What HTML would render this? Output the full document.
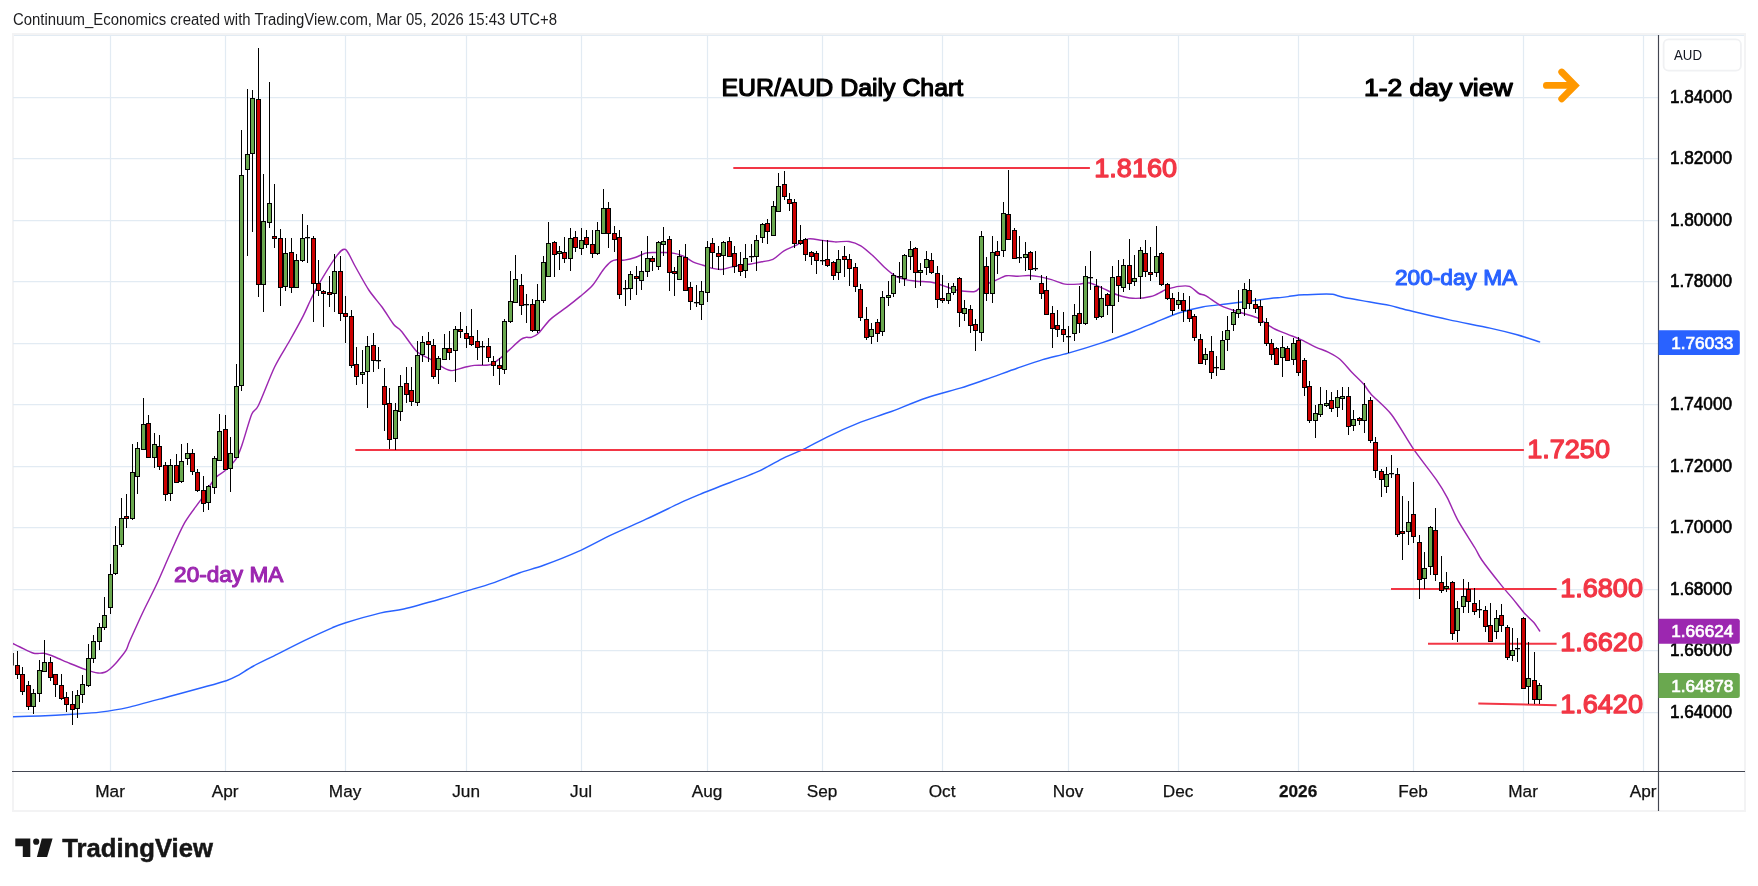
<!DOCTYPE html><html><head><meta charset="utf-8"><title>EUR/AUD Daily Chart</title><style>html,body{margin:0;padding:0;background:#fff}</style></head><body><svg width="1758" height="886" viewBox="0 0 1758 886" style="display:block;font-family:'Liberation Sans', sans-serif;will-change:transform">
<rect width="1758" height="886" fill="#fff"/>
<rect x="13" y="34" width="1732" height="777" fill="none" stroke="#f3f3f4" stroke-width="2"/>
<defs><clipPath id="cp"><rect x="13" y="36" width="1645" height="735"/></clipPath></defs>
<g stroke="#e2ebf3" stroke-width="1.25">
<line x1="13" x2="1658" y1="97.50" y2="97.50"/>
<line x1="13" x2="1658" y1="158.50" y2="158.50"/>
<line x1="13" x2="1658" y1="220.50" y2="220.50"/>
<line x1="13" x2="1658" y1="281.50" y2="281.50"/>
<line x1="13" x2="1658" y1="343.50" y2="343.50"/>
<line x1="13" x2="1658" y1="404.50" y2="404.50"/>
<line x1="13" x2="1658" y1="466.50" y2="466.50"/>
<line x1="13" x2="1658" y1="527.50" y2="527.50"/>
<line x1="13" x2="1658" y1="589.50" y2="589.50"/>
<line x1="13" x2="1658" y1="650.50" y2="650.50"/>
<line x1="13" x2="1658" y1="712.50" y2="712.50"/>
<line x1="110.50" x2="110.50" y1="36" y2="771"/>
<line x1="225.50" x2="225.50" y1="36" y2="771"/>
<line x1="345.50" x2="345.50" y1="36" y2="771"/>
<line x1="466.50" x2="466.50" y1="36" y2="771"/>
<line x1="581.50" x2="581.50" y1="36" y2="771"/>
<line x1="707.50" x2="707.50" y1="36" y2="771"/>
<line x1="822.50" x2="822.50" y1="36" y2="771"/>
<line x1="942.50" x2="942.50" y1="36" y2="771"/>
<line x1="1068.50" x2="1068.50" y1="36" y2="771"/>
<line x1="1178.50" x2="1178.50" y1="36" y2="771"/>
<line x1="1298.50" x2="1298.50" y1="36" y2="771"/>
<line x1="1413.50" x2="1413.50" y1="36" y2="771"/>
<line x1="1523.50" x2="1523.50" y1="36" y2="771"/>
<line x1="1643.50" x2="1643.50" y1="36" y2="771"/>
</g>
<line x1="14" x2="1744" y1="35.5" y2="35.5" stroke="#e2ebf3" stroke-width="1.1"/>
<g clip-path="url(#cp)">
<path d="M12.0 716.7C16.0 716.6 31.4 716.3 40.0 716.0C48.6 715.7 63.4 714.9 72.0 714.3C80.6 713.7 92.1 713.1 100.0 712.1C107.9 711.1 117.5 709.8 127.3 707.6C137.1 705.4 157.6 699.6 168.3 696.7C179.0 693.8 194.1 689.8 202.4 687.5C210.7 685.2 221.4 682.3 226.3 680.7C231.2 679.1 232.6 678.3 236.5 676.2C240.4 674.1 247.7 669.2 253.6 666.0C259.5 662.8 270.2 657.8 277.5 654.1C284.8 650.4 297.0 644.2 304.8 640.4C312.6 636.6 326.3 630.3 332.1 627.8C337.9 625.3 338.9 624.8 345.7 622.7C352.5 620.6 371.6 615.1 379.9 613.1C388.2 611.1 395.0 611.0 403.8 609.0C412.6 607.0 432.3 601.4 441.3 598.8C450.3 596.2 459.6 593.1 466.9 590.9C474.2 588.7 484.9 585.7 492.5 583.1C500.1 580.5 512.5 575.3 519.8 572.8C527.1 570.3 535.4 568.3 543.7 565.3C552.0 562.3 568.1 556.1 577.8 551.7C587.5 547.3 602.1 539.2 611.9 534.6C621.7 530.0 636.3 523.7 646.1 519.2C655.9 514.7 672.5 506.5 680.2 502.9C687.9 499.3 694.5 496.6 700.0 494.3C705.5 492.0 710.1 490.3 718.4 487.0C726.7 483.7 748.9 475.6 758.3 471.4C767.7 467.2 777.4 461.0 783.9 457.8C790.4 454.6 797.7 452.1 803.8 449.2C809.9 446.3 818.4 441.2 826.5 437.3C834.6 433.4 851.7 425.8 860.6 422.2C869.5 418.6 879.7 415.8 889.1 412.3C898.5 408.8 915.9 401.5 926.1 398.0C936.3 394.5 951.7 390.7 960.2 388.1C968.7 385.5 977.7 382.3 985.8 379.5C993.9 376.7 1009.0 371.0 1017.1 368.2C1025.2 365.4 1035.4 361.8 1042.7 359.6C1050.0 357.4 1059.8 355.5 1068.3 353.1C1076.8 350.7 1093.1 345.7 1102.4 342.6C1111.7 339.5 1126.2 334.1 1133.7 331.2C1141.2 328.3 1148.6 325.1 1155.0 322.5C1161.4 319.9 1171.9 315.2 1178.7 313.0C1185.5 310.8 1195.6 308.3 1202.4 307.0C1209.2 305.7 1219.3 304.8 1226.1 304.0C1232.9 303.2 1243.0 302.0 1249.8 301.1C1256.6 300.2 1269.2 298.5 1273.5 298.0C1277.8 297.5 1277.9 297.8 1280.0 297.6C1282.1 297.4 1285.6 297.0 1288.2 296.6C1290.8 296.2 1295.7 295.3 1298.4 295.0C1301.1 294.7 1304.5 294.8 1307.3 294.7C1310.1 294.6 1315.5 294.3 1318.2 294.2C1320.9 294.1 1324.3 294.0 1326.4 294.0C1328.5 294.0 1330.8 294.0 1332.6 294.3C1334.4 294.6 1336.5 295.4 1338.7 296.0C1340.9 296.6 1344.0 297.5 1348.3 298.3C1352.6 299.1 1362.7 300.7 1368.7 301.7C1374.7 302.7 1386.1 304.7 1390.6 305.6C1395.1 306.5 1396.6 307.4 1400.0 308.3C1403.4 309.2 1407.1 310.1 1414.2 311.8C1421.3 313.5 1438.6 317.6 1449.4 319.9C1460.2 322.2 1480.3 326.0 1490.0 328.1C1499.7 330.2 1510.0 332.8 1517.1 334.8C1524.2 336.8 1536.4 340.9 1539.6 341.9" fill="none" stroke="#2962ff" stroke-width="1.45" stroke-linejoin="round" stroke-linecap="round"/>
<path d="M12.0 643.2C13.1 643.7 16.9 645.6 20.0 647.0C23.1 648.4 30.3 652.4 33.7 653.3C37.1 654.2 40.9 652.8 43.9 653.3C46.9 653.8 51.3 655.5 55.0 657.0C58.7 658.5 65.6 661.7 70.0 663.5C74.4 665.3 81.8 668.2 85.8 669.6C89.8 671.0 95.3 672.6 98.0 673.0C100.7 673.4 103.1 672.9 104.8 672.3C106.5 671.7 108.5 670.3 110.0 669.0C111.5 667.7 114.0 665.2 115.6 663.5C117.2 661.8 119.4 659.0 121.0 657.0C122.6 655.0 125.2 651.7 126.5 649.3C127.8 646.9 127.6 645.8 130.0 640.5C132.4 635.2 139.2 620.0 143.0 612.0C146.8 604.0 152.5 593.1 156.4 584.8C160.3 576.5 166.0 562.9 170.0 554.0C174.0 545.1 180.2 530.6 184.7 522.7C189.2 514.8 197.3 505.1 201.6 498.7C205.9 492.3 211.7 482.2 215.0 478.2C218.3 474.2 221.9 473.6 224.9 470.8C227.9 468.0 233.6 462.6 236.1 458.8C238.6 455.0 240.1 450.4 242.3 444.0C244.5 437.6 249.4 419.7 251.7 414.2C254.0 408.7 255.1 412.2 258.4 405.5C261.7 398.8 270.2 376.2 274.6 367.0C279.0 357.8 285.4 348.3 289.5 341.0C293.6 333.7 300.1 322.0 303.1 316.1C306.1 310.2 308.3 304.7 310.6 300.0C312.9 295.3 315.6 289.7 319.3 283.4C323.0 277.1 333.0 260.7 336.7 255.9C340.4 251.1 342.9 248.1 345.5 249.5C348.1 250.9 351.7 260.2 355.0 266.0C358.3 271.8 364.9 284.1 368.8 290.0C372.7 295.9 378.6 302.4 382.2 307.3C385.8 312.2 391.0 321.1 393.7 324.5C396.4 327.9 398.1 327.4 401.4 331.2C404.7 335.0 412.6 347.4 416.7 351.4C420.8 355.4 426.3 356.7 430.1 359.0C433.9 361.3 440.4 366.0 443.6 367.7C446.8 369.4 449.2 370.7 452.2 370.6C455.2 370.5 461.5 368.0 464.7 367.3C467.9 366.6 470.7 365.8 474.3 365.4C477.9 365.0 486.0 365.7 489.6 364.8C493.2 363.9 496.5 361.1 499.2 359.0C501.9 356.9 505.7 353.2 508.8 350.4C511.9 347.6 518.1 341.6 520.6 339.7C523.1 337.8 524.4 337.7 526.0 337.4C527.6 337.1 529.8 337.9 531.5 337.4C533.2 336.9 535.5 336.2 538.2 333.6C540.9 331.0 546.3 323.2 550.4 319.4C554.5 315.6 562.4 310.5 566.7 307.2C571.0 303.9 576.5 299.5 580.2 296.4C583.9 293.3 589.1 289.3 592.4 285.5C595.7 281.7 600.6 273.1 603.3 269.7C606.0 266.3 609.1 263.1 611.0 261.7C612.9 260.3 614.8 260.0 616.7 259.8C618.6 259.6 621.7 260.5 624.4 260.1C627.1 259.7 632.9 258.3 635.9 257.3C638.9 256.3 642.8 253.8 645.5 253.1C648.2 252.4 652.4 252.6 655.1 252.5C657.8 252.4 662.0 252.4 664.7 252.5C667.4 252.6 671.6 252.9 674.3 253.4C677.0 253.9 681.2 255.1 683.9 256.3C686.6 257.5 690.7 260.8 693.4 262.1C696.1 263.4 700.3 264.4 703.0 265.3C705.7 266.2 709.9 267.8 712.6 268.4C715.3 269.0 719.5 269.6 722.2 269.4C724.9 269.2 729.1 267.5 731.8 266.9C734.5 266.3 738.7 265.3 741.4 264.9C744.1 264.5 748.6 264.3 751.0 264.0C753.4 263.7 754.8 263.2 757.9 262.5C761.0 261.8 769.2 260.9 772.9 259.3C776.6 257.7 780.2 253.1 783.6 251.1C787.0 249.1 793.0 246.8 796.5 245.1C800.0 243.4 804.6 239.6 808.3 238.9C812.0 238.2 818.4 240.0 822.2 240.4C826.0 240.8 831.2 241.7 835.0 241.9C838.8 242.1 845.3 240.9 849.0 241.5C852.7 242.1 857.3 243.7 860.8 245.8C864.3 247.9 870.3 253.4 873.7 256.5C877.1 259.6 881.3 264.4 884.4 267.2C887.5 270.0 892.2 274.1 895.1 275.8C898.0 277.5 901.6 278.6 904.7 279.4C907.8 280.2 912.7 280.8 916.5 281.2C920.3 281.6 927.8 281.6 931.5 282.2C935.2 282.8 938.9 284.3 942.3 285.4C945.7 286.5 952.4 288.9 955.1 289.7C957.8 290.5 958.5 290.6 961.3 290.9C964.1 291.2 971.9 292.1 974.8 291.5C977.7 290.9 978.7 287.9 981.6 286.4C984.5 284.9 991.6 282.2 995.1 280.7C998.6 279.2 1003.2 276.4 1006.4 275.8C1009.6 275.2 1014.5 276.2 1017.7 276.2C1020.9 276.2 1025.8 275.4 1029.0 275.5C1032.2 275.6 1037.1 276.3 1040.3 276.9C1043.5 277.5 1048.0 278.6 1051.5 279.6C1055.0 280.6 1061.2 283.5 1065.1 284.1C1069.0 284.7 1075.1 284.3 1078.6 284.1C1082.1 283.9 1086.4 282.4 1089.9 283.0C1093.4 283.6 1099.5 286.9 1103.4 288.6C1107.3 290.3 1112.8 293.3 1117.0 294.7C1121.2 296.1 1128.0 298.0 1132.8 298.3C1137.6 298.6 1146.6 297.5 1150.8 296.5C1155.0 295.5 1159.8 292.5 1162.1 291.5C1164.4 290.5 1164.5 290.0 1166.9 289.3C1169.3 288.6 1175.5 286.8 1178.7 286.4C1181.9 286.0 1186.5 285.4 1189.4 286.4C1192.3 287.4 1196.5 292.1 1198.9 293.5C1201.3 294.9 1202.8 294.1 1206.0 295.9C1209.2 297.7 1216.8 303.6 1221.4 305.9C1226.0 308.2 1232.9 310.1 1238.0 311.8C1243.1 313.5 1251.8 315.3 1256.9 317.7C1262.0 320.1 1269.1 326.0 1273.5 328.4C1277.9 330.8 1283.7 332.6 1287.8 334.3C1291.9 336.0 1297.9 338.3 1302.0 340.2C1306.1 342.1 1312.5 345.6 1316.2 347.3C1319.9 349.0 1324.7 350.4 1328.1 352.1C1331.5 353.8 1336.5 356.3 1339.9 359.2C1343.3 362.1 1348.4 368.6 1351.8 372.2C1355.2 375.8 1360.8 380.9 1363.6 384.1C1366.4 387.3 1367.3 390.0 1371.3 394.4C1375.3 398.8 1385.6 407.0 1391.6 414.7C1397.6 422.4 1406.8 439.3 1413.2 448.6C1419.6 457.9 1431.5 472.7 1436.3 479.7C1441.1 486.7 1444.0 491.5 1447.1 497.3C1450.2 503.1 1453.9 513.1 1457.9 520.3C1461.9 527.5 1471.6 542.3 1475.0 548.0C1478.4 553.7 1478.1 554.7 1481.8 560.0C1485.5 565.3 1496.6 579.4 1501.0 584.9C1505.4 590.4 1509.2 594.4 1512.5 598.4C1515.8 602.4 1521.0 609.3 1524.0 612.7C1527.0 616.1 1531.4 619.7 1533.6 622.3C1535.8 624.9 1538.8 629.8 1539.7 631.0" fill="none" stroke="#9c27b0" stroke-width="1.45" stroke-linejoin="round" stroke-linecap="round"/>
<line x1="733.3" x2="1089.9" y1="167.9" y2="167.9" stroke="#f23645" stroke-width="2"/>
<line x1="355.3" x2="1523.9" y1="450" y2="450" stroke="#f23645" stroke-width="2"/>
<line x1="1391" x2="1556.6" y1="589" y2="589" stroke="#f23645" stroke-width="2"/>
<line x1="1428" x2="1556.6" y1="643.7" y2="643.7" stroke="#f23645" stroke-width="2"/>
<line x1="1478.3" x2="1556.6" y1="703.5" y2="705.2" stroke="#f23645" stroke-width="2"/>
<line x1="13.2" x2="13.2" y1="653" y2="665.5" stroke="#000" stroke-width="1.2"/>
<path d="M17.5 651V679M22.5 667V695M28.5 681V710M33.5 689V714M39.5 660V702M44.5 640V671M50.5 657V681M55.5 674V697M61.5 674V700M66.5 692V712M72.5 691V725M77.5 690V718M82.5 675V703M88.5 644V687M93.5 635V663M99.5 623V650M104.5 597V630M110.5 564V614M115.5 526V575M121.5 498V547M126.5 494V528M132.5 444V520M137.5 442V494M143.5 398V449M148.5 415V458M154.5 433V468M159.5 435V470M165.5 462V501M170.5 459V501M176.5 454V482M181.5 444V483M187.5 443V465M192.5 449V475M197.5 469V492M203.5 476V512M208.5 485V510M214.5 456V494M219.5 414V460M225.5 415V470M230.5 437V492M236.5 364V458M241.5 130V391M247.5 89V256M252.5 90V232M258.5 48V297M263.5 174V312M269.5 82V228M274.5 184V248M280.5 229V306M285.5 238V291M291.5 238V293M296.5 254V287M302.5 214V262M307.5 225V263M313.5 236V322M318.5 260V296M323.5 290V327M329.5 276V307M334.5 254V312M340.5 256V321M345.5 296V343M351.5 310V368M356.5 347V385M362.5 350V384M367.5 336V408M373.5 333V372M378.5 347V369M384.5 368V431M389.5 388V449M395.5 403V450M400.5 375V421M406.5 367V403M411.5 367V406M417.5 341V406M422.5 336V362M428.5 332V362M433.5 339V379M438.5 356V384M444.5 334V359M449.5 331V360M455.5 326V382M460.5 312V338M466.5 326V348M471.5 309V346M477.5 330V360M482.5 341V365M488.5 338V362M493.5 356V376M499.5 358V385M504.5 319V374M510.5 271V323M515.5 255V302M521.5 274V315M526.5 294V323M532.5 299V332M537.5 284V333M543.5 256V303M548.5 222V276M554.5 241V277M559.5 246V270M564.5 237V263M570.5 228V271M575.5 231V252M581.5 228V255M586.5 230V248M592.5 230V258M597.5 222V255M603.5 189V233M608.5 202V248M614.5 226V252M619.5 230V299M625.5 280V306M630.5 271V300M636.5 266V295M641.5 251V290M647.5 236V277M652.5 256V271M658.5 241V270M663.5 227V256M669.5 236V291M674.5 267V296M679.5 250V280M685.5 244V290M690.5 282V310M696.5 285V307M701.5 281V320M707.5 241V302M712.5 238V268M718.5 246V270M723.5 241V275M729.5 237V256M734.5 246V273M740.5 252V276M745.5 244V278M751.5 244V262M756.5 235V271M762.5 223V243M767.5 219V244M773.5 201V236M778.5 173V212M784.5 171V200M789.5 193V211M794.5 199V248M800.5 225V245M805.5 238V261M811.5 251V265M816.5 251V274M822.5 240V265M827.5 240V267M833.5 261V280M838.5 250V280M844.5 246V277M849.5 254V286M855.5 263V292M860.5 284V321M866.5 307V340M871.5 323V344M877.5 319V342M882.5 291V336M888.5 281V306M893.5 273V297M899.5 262V283M904.5 254V286M910.5 241V270M915.5 247V288M920.5 263V286M926.5 251V275M931.5 253V274M937.5 266V308M942.5 275V303M948.5 283V304M953.5 283V295M959.5 277V327M964.5 300V321M970.5 305V333M975.5 319V351M981.5 231V341M986.5 257V301M992.5 236V303M997.5 241V274M1003.5 202V257M1008.5 170V239M1014.5 228V259M1019.5 236V263M1025.5 242V271M1030.5 251V280M1035.5 251V271M1041.5 275V299M1046.5 276V314M1052.5 306V348M1057.5 310V337M1063.5 312V342M1068.5 326V353M1074.5 304V341M1079.5 286V333M1085.5 266V325M1090.5 251V290M1096.5 279V320M1101.5 286V318M1107.5 293V315M1112.5 266V333M1118.5 260V302M1123.5 259V292M1129.5 239V290M1134.5 255V286M1140.5 247V299M1145.5 240V277M1150.5 247V281M1156.5 226V277M1161.5 252V286M1167.5 283V300M1172.5 293V315M1178.5 292V309M1183.5 293V322M1189.5 296V322M1194.5 314V341M1200.5 334V363M1205.5 348V365M1211.5 336V379M1216.5 356V376M1222.5 331V369M1227.5 316V351M1233.5 309V331M1238.5 290V318M1244.5 283V316M1249.5 279V309M1255.5 298V313M1260.5 300V326M1266.5 318V346M1271.5 339V360M1276.5 347V364M1282.5 336V377M1287.5 346V361M1293.5 338V365M1298.5 337V376M1304.5 358V396M1309.5 381V423M1315.5 405V438M1320.5 387V417M1326.5 390V407M1331.5 392V412M1337.5 390V417M1342.5 387V410M1348.5 387V435M1353.5 410V431M1359.5 417V425M1364.5 383V433M1370.5 397V443M1375.5 437V478M1381.5 469V497M1386.5 467V493M1391.5 455V478M1397.5 468V537M1402.5 496V560M1408.5 501V545M1413.5 482V543M1419.5 535V599M1424.5 552V589M1430.5 526V575M1435.5 508V581M1441.5 556V593M1446.5 572V592M1452.5 581V640M1457.5 601V642M1463.5 579V613M1468.5 582V613M1474.5 588V615M1479.5 600V618M1485.5 606V632M1490.5 603V641M1496.5 610V639M1501.5 604V632M1507.5 625V660M1512.5 628V661M1517.5 638V662M1523.5 617V688M1528.5 642V704M1534.5 652V704M1539.5 683V704" stroke="#000" stroke-width="1" fill="none"/>
<rect x="15.5" y="665.5" width="4" height="9" fill="#cc0000" stroke="#000" stroke-width="1"/><rect x="20.5" y="674.5" width="4" height="17" fill="#cc0000" stroke="#000" stroke-width="1"/><rect x="26.5" y="685.5" width="4" height="21" fill="#cc0000" stroke="#000" stroke-width="1"/><rect x="31.5" y="693.5" width="4" height="13" fill="#6aa84f" stroke="#000" stroke-width="1"/><rect x="37.5" y="670.5" width="4" height="23" fill="#6aa84f" stroke="#000" stroke-width="1"/><rect x="42.5" y="662.5" width="4" height="9" fill="#6aa84f" stroke="#000" stroke-width="1"/><rect x="48.5" y="662.5" width="4" height="15" fill="#cc0000" stroke="#000" stroke-width="1"/><rect x="53.5" y="674.5" width="4" height="10" fill="#cc0000" stroke="#000" stroke-width="1"/><rect x="59.5" y="685.5" width="4" height="13" fill="#cc0000" stroke="#000" stroke-width="1"/><rect x="64.5" y="697.5" width="4" height="7" fill="#cc0000" stroke="#000" stroke-width="1"/><rect x="70.5" y="704.5" width="4" height="5" fill="#cc0000" stroke="#000" stroke-width="1"/><rect x="75.5" y="695.5" width="4" height="13" fill="#6aa84f" stroke="#000" stroke-width="1"/><rect x="80.5" y="684.5" width="4" height="10" fill="#6aa84f" stroke="#000" stroke-width="1"/><rect x="86.5" y="658.5" width="4" height="27" fill="#6aa84f" stroke="#000" stroke-width="1"/><rect x="91.5" y="641.5" width="4" height="17" fill="#6aa84f" stroke="#000" stroke-width="1"/><rect x="97.5" y="627.5" width="4" height="14" fill="#6aa84f" stroke="#000" stroke-width="1"/><rect x="102.5" y="615.5" width="4" height="12" fill="#6aa84f" stroke="#000" stroke-width="1"/><rect x="108.5" y="574.5" width="4" height="33" fill="#6aa84f" stroke="#000" stroke-width="1"/><rect x="113.5" y="545.5" width="4" height="28" fill="#6aa84f" stroke="#000" stroke-width="1"/><rect x="119.5" y="518.5" width="4" height="26" fill="#6aa84f" stroke="#000" stroke-width="1"/><rect x="124.5" y="516.5" width="4" height="2" fill="#cc0000" stroke="#000" stroke-width="1"/><rect x="130.5" y="472.5" width="4" height="46" fill="#6aa84f" stroke="#000" stroke-width="1"/><rect x="135.5" y="448.5" width="4" height="28" fill="#6aa84f" stroke="#000" stroke-width="1"/><rect x="141.5" y="424.5" width="4" height="25" fill="#6aa84f" stroke="#000" stroke-width="1"/><rect x="146.5" y="423.5" width="4" height="34" fill="#cc0000" stroke="#000" stroke-width="1"/><rect x="152.5" y="444.5" width="4" height="13" fill="#6aa84f" stroke="#000" stroke-width="1"/><rect x="157.5" y="446.5" width="4" height="20" fill="#cc0000" stroke="#000" stroke-width="1"/><rect x="163.5" y="465.5" width="4" height="29" fill="#cc0000" stroke="#000" stroke-width="1"/><rect x="168.5" y="465.5" width="4" height="28" fill="#6aa84f" stroke="#000" stroke-width="1"/><rect x="174.5" y="465.5" width="4" height="17" fill="#cc0000" stroke="#000" stroke-width="1"/><rect x="179.5" y="461.5" width="4" height="20" fill="#6aa84f" stroke="#000" stroke-width="1"/><rect x="185.5" y="453.5" width="4" height="5" fill="#6aa84f" stroke="#000" stroke-width="1"/><rect x="190.5" y="453.5" width="4" height="18" fill="#cc0000" stroke="#000" stroke-width="1"/><rect x="195.5" y="472.5" width="4" height="18" fill="#cc0000" stroke="#000" stroke-width="1"/><rect x="201.5" y="490.5" width="4" height="13" fill="#cc0000" stroke="#000" stroke-width="1"/><rect x="206.5" y="486.5" width="4" height="16" fill="#6aa84f" stroke="#000" stroke-width="1"/><rect x="212.5" y="458.5" width="4" height="29" fill="#6aa84f" stroke="#000" stroke-width="1"/><rect x="217.5" y="431.5" width="4" height="29" fill="#6aa84f" stroke="#000" stroke-width="1"/><rect x="223.5" y="429.5" width="4" height="40" fill="#cc0000" stroke="#000" stroke-width="1"/><rect x="228.5" y="453.5" width="4" height="15" fill="#6aa84f" stroke="#000" stroke-width="1"/><rect x="234.5" y="386.5" width="4" height="71" fill="#6aa84f" stroke="#000" stroke-width="1"/><rect x="239.5" y="175.5" width="4" height="210" fill="#6aa84f" stroke="#000" stroke-width="1"/><rect x="245.5" y="154.5" width="4" height="15" fill="#6aa84f" stroke="#000" stroke-width="1"/><rect x="250.5" y="98.5" width="4" height="55" fill="#6aa84f" stroke="#000" stroke-width="1"/><rect x="256.5" y="99.5" width="4" height="185" fill="#cc0000" stroke="#000" stroke-width="1"/><rect x="261.5" y="221.5" width="4" height="63" fill="#6aa84f" stroke="#000" stroke-width="1"/><rect x="267.5" y="203.5" width="4" height="19" fill="#6aa84f" stroke="#000" stroke-width="1"/><rect x="272.5" y="236.5" width="4" height="2" fill="#cc0000" stroke="#000" stroke-width="1"/><rect x="278.5" y="238.5" width="4" height="49" fill="#cc0000" stroke="#000" stroke-width="1"/><rect x="283.5" y="253.5" width="4" height="33" fill="#6aa84f" stroke="#000" stroke-width="1"/><rect x="289.5" y="252.5" width="4" height="35" fill="#cc0000" stroke="#000" stroke-width="1"/><rect x="294.5" y="260.5" width="4" height="27" fill="#6aa84f" stroke="#000" stroke-width="1"/><rect x="300.5" y="238.5" width="4" height="22" fill="#6aa84f" stroke="#000" stroke-width="1"/><rect x="305.0" y="237" width="5" height="1.3" fill="#000"/><rect x="311.5" y="238.5" width="4" height="45" fill="#cc0000" stroke="#000" stroke-width="1"/><rect x="316.5" y="283.5" width="4" height="7" fill="#cc0000" stroke="#000" stroke-width="1"/><rect x="321.5" y="291.5" width="4" height="2" fill="#cc0000" stroke="#000" stroke-width="1"/><rect x="327.5" y="292.5" width="4" height="2" fill="#cc0000" stroke="#000" stroke-width="1"/><rect x="332.5" y="271.5" width="4" height="22" fill="#6aa84f" stroke="#000" stroke-width="1"/><rect x="338.5" y="271.5" width="4" height="42" fill="#cc0000" stroke="#000" stroke-width="1"/><rect x="343.5" y="313.5" width="4" height="3" fill="#cc0000" stroke="#000" stroke-width="1"/><rect x="349.5" y="316.5" width="4" height="49" fill="#cc0000" stroke="#000" stroke-width="1"/><rect x="354.5" y="364.5" width="4" height="12" fill="#cc0000" stroke="#000" stroke-width="1"/><rect x="360.5" y="372.5" width="4" height="2" fill="#6aa84f" stroke="#000" stroke-width="1"/><rect x="365.5" y="346.5" width="4" height="25" fill="#6aa84f" stroke="#000" stroke-width="1"/><rect x="371.5" y="345.5" width="4" height="15" fill="#cc0000" stroke="#000" stroke-width="1"/><rect x="376.0" y="360" width="5" height="1.3" fill="#000"/><rect x="382.5" y="386.5" width="4" height="18" fill="#cc0000" stroke="#000" stroke-width="1"/><rect x="387.5" y="403.5" width="4" height="36" fill="#cc0000" stroke="#000" stroke-width="1"/><rect x="393.5" y="410.5" width="4" height="28" fill="#6aa84f" stroke="#000" stroke-width="1"/><rect x="398.5" y="386.5" width="4" height="25" fill="#6aa84f" stroke="#000" stroke-width="1"/><rect x="404.5" y="383.5" width="4" height="11" fill="#cc0000" stroke="#000" stroke-width="1"/><rect x="409.5" y="390.5" width="4" height="11" fill="#cc0000" stroke="#000" stroke-width="1"/><rect x="415.5" y="355.5" width="4" height="47" fill="#6aa84f" stroke="#000" stroke-width="1"/><rect x="420.5" y="342.5" width="4" height="12" fill="#6aa84f" stroke="#000" stroke-width="1"/><rect x="426.5" y="341.5" width="4" height="3" fill="#cc0000" stroke="#000" stroke-width="1"/><rect x="431.5" y="345.5" width="4" height="31" fill="#cc0000" stroke="#000" stroke-width="1"/><rect x="436.5" y="358.5" width="4" height="11" fill="#6aa84f" stroke="#000" stroke-width="1"/><rect x="442.5" y="348.5" width="4" height="11" fill="#6aa84f" stroke="#000" stroke-width="1"/><rect x="447.5" y="348.5" width="4" height="4" fill="#cc0000" stroke="#000" stroke-width="1"/><rect x="453.5" y="329.5" width="4" height="21" fill="#6aa84f" stroke="#000" stroke-width="1"/><rect x="458.5" y="329.5" width="4" height="2" fill="#cc0000" stroke="#000" stroke-width="1"/><rect x="464.5" y="333.5" width="4" height="5" fill="#cc0000" stroke="#000" stroke-width="1"/><rect x="469.5" y="336.5" width="4" height="8" fill="#cc0000" stroke="#000" stroke-width="1"/><rect x="475.5" y="341.5" width="4" height="6" fill="#cc0000" stroke="#000" stroke-width="1"/><rect x="480.0" y="346" width="5" height="1.3" fill="#000"/><rect x="486.5" y="346.5" width="4" height="11" fill="#cc0000" stroke="#000" stroke-width="1"/><rect x="491.5" y="361.5" width="4" height="4" fill="#cc0000" stroke="#000" stroke-width="1"/><rect x="497.5" y="365.5" width="4" height="3" fill="#cc0000" stroke="#000" stroke-width="1"/><rect x="502.5" y="321.5" width="4" height="48" fill="#6aa84f" stroke="#000" stroke-width="1"/><rect x="508.5" y="301.5" width="4" height="20" fill="#6aa84f" stroke="#000" stroke-width="1"/><rect x="513.5" y="279.5" width="4" height="23" fill="#6aa84f" stroke="#000" stroke-width="1"/><rect x="519.5" y="285.5" width="4" height="20" fill="#cc0000" stroke="#000" stroke-width="1"/><rect x="524.0" y="304" width="5" height="1.3" fill="#000"/><rect x="530.5" y="304.5" width="4" height="26" fill="#cc0000" stroke="#000" stroke-width="1"/><rect x="535.5" y="300.5" width="4" height="30" fill="#6aa84f" stroke="#000" stroke-width="1"/><rect x="541.5" y="262.5" width="4" height="38" fill="#6aa84f" stroke="#000" stroke-width="1"/><rect x="546.5" y="243.5" width="4" height="33" fill="#6aa84f" stroke="#000" stroke-width="1"/><rect x="552.5" y="242.5" width="4" height="12" fill="#cc0000" stroke="#000" stroke-width="1"/><rect x="557.5" y="251.5" width="4" height="2" fill="#6aa84f" stroke="#000" stroke-width="1"/><rect x="562.5" y="252.5" width="4" height="6" fill="#cc0000" stroke="#000" stroke-width="1"/><rect x="568.5" y="238.5" width="4" height="20" fill="#6aa84f" stroke="#000" stroke-width="1"/><rect x="573.5" y="237.5" width="4" height="10" fill="#cc0000" stroke="#000" stroke-width="1"/><rect x="579.5" y="240.5" width="4" height="8" fill="#6aa84f" stroke="#000" stroke-width="1"/><rect x="584.5" y="237.5" width="4" height="7" fill="#cc0000" stroke="#000" stroke-width="1"/><rect x="590.5" y="244.5" width="4" height="9" fill="#cc0000" stroke="#000" stroke-width="1"/><rect x="595.5" y="230.5" width="4" height="23" fill="#6aa84f" stroke="#000" stroke-width="1"/><rect x="601.5" y="208.5" width="4" height="25" fill="#6aa84f" stroke="#000" stroke-width="1"/><rect x="606.5" y="208.5" width="4" height="25" fill="#cc0000" stroke="#000" stroke-width="1"/><rect x="612.5" y="233.5" width="4" height="6" fill="#cc0000" stroke="#000" stroke-width="1"/><rect x="617.5" y="237.5" width="4" height="57" fill="#cc0000" stroke="#000" stroke-width="1"/><rect x="623.0" y="288" width="5" height="1.3" fill="#000"/><rect x="628.5" y="274.5" width="4" height="14" fill="#6aa84f" stroke="#000" stroke-width="1"/><rect x="634.5" y="276.5" width="4" height="2" fill="#cc0000" stroke="#000" stroke-width="1"/><rect x="639.5" y="271.5" width="4" height="9" fill="#6aa84f" stroke="#000" stroke-width="1"/><rect x="645.5" y="258.5" width="4" height="13" fill="#6aa84f" stroke="#000" stroke-width="1"/><rect x="650.5" y="258.5" width="4" height="3" fill="#cc0000" stroke="#000" stroke-width="1"/><rect x="656.5" y="242.5" width="4" height="24" fill="#6aa84f" stroke="#000" stroke-width="1"/><rect x="661.5" y="241.5" width="4" height="3" fill="#6aa84f" stroke="#000" stroke-width="1"/><rect x="667.5" y="239.5" width="4" height="33" fill="#cc0000" stroke="#000" stroke-width="1"/><rect x="672.5" y="271.5" width="4" height="2" fill="#cc0000" stroke="#000" stroke-width="1"/><rect x="677.5" y="256.5" width="4" height="23" fill="#6aa84f" stroke="#000" stroke-width="1"/><rect x="683.5" y="257.5" width="4" height="33" fill="#cc0000" stroke="#000" stroke-width="1"/><rect x="688.5" y="287.5" width="4" height="14" fill="#cc0000" stroke="#000" stroke-width="1"/><rect x="694.0" y="302" width="5" height="1.3" fill="#000"/><rect x="699.5" y="291.5" width="4" height="13" fill="#6aa84f" stroke="#000" stroke-width="1"/><rect x="705.5" y="247.5" width="4" height="45" fill="#6aa84f" stroke="#000" stroke-width="1"/><rect x="710.5" y="243.5" width="4" height="9" fill="#cc0000" stroke="#000" stroke-width="1"/><rect x="716.5" y="253.5" width="4" height="3" fill="#cc0000" stroke="#000" stroke-width="1"/><rect x="721.5" y="242.5" width="4" height="13" fill="#6aa84f" stroke="#000" stroke-width="1"/><rect x="727.5" y="241.5" width="4" height="15" fill="#cc0000" stroke="#000" stroke-width="1"/><rect x="732.5" y="253.5" width="4" height="13" fill="#cc0000" stroke="#000" stroke-width="1"/><rect x="738.5" y="264.5" width="4" height="7" fill="#cc0000" stroke="#000" stroke-width="1"/><rect x="743.5" y="258.5" width="4" height="12" fill="#6aa84f" stroke="#000" stroke-width="1"/><rect x="749.0" y="256" width="5" height="1.3" fill="#000"/><rect x="754.5" y="240.5" width="4" height="16" fill="#6aa84f" stroke="#000" stroke-width="1"/><rect x="760.5" y="224.5" width="4" height="13" fill="#6aa84f" stroke="#000" stroke-width="1"/><rect x="765.5" y="223.5" width="4" height="8" fill="#cc0000" stroke="#000" stroke-width="1"/><rect x="771.5" y="206.5" width="4" height="29" fill="#6aa84f" stroke="#000" stroke-width="1"/><rect x="776.5" y="186.5" width="4" height="25" fill="#6aa84f" stroke="#000" stroke-width="1"/><rect x="782.5" y="184.5" width="4" height="12" fill="#cc0000" stroke="#000" stroke-width="1"/><rect x="787.5" y="199.5" width="4" height="4" fill="#cc0000" stroke="#000" stroke-width="1"/><rect x="792.5" y="202.5" width="4" height="41" fill="#cc0000" stroke="#000" stroke-width="1"/><rect x="798.5" y="240.5" width="4" height="3" fill="#cc0000" stroke="#000" stroke-width="1"/><rect x="803.5" y="239.5" width="4" height="15" fill="#cc0000" stroke="#000" stroke-width="1"/><rect x="809.5" y="252.5" width="4" height="4" fill="#cc0000" stroke="#000" stroke-width="1"/><rect x="814.5" y="253.5" width="4" height="7" fill="#cc0000" stroke="#000" stroke-width="1"/><rect x="820.0" y="260" width="5" height="1.3" fill="#000"/><rect x="825.5" y="259.5" width="4" height="6" fill="#cc0000" stroke="#000" stroke-width="1"/><rect x="831.5" y="262.5" width="4" height="13" fill="#cc0000" stroke="#000" stroke-width="1"/><rect x="836.5" y="259.5" width="4" height="13" fill="#6aa84f" stroke="#000" stroke-width="1"/><rect x="842.5" y="256.5" width="4" height="3" fill="#cc0000" stroke="#000" stroke-width="1"/><rect x="847.5" y="259.5" width="4" height="9" fill="#cc0000" stroke="#000" stroke-width="1"/><rect x="853.5" y="267.5" width="4" height="19" fill="#cc0000" stroke="#000" stroke-width="1"/><rect x="858.5" y="289.5" width="4" height="28" fill="#cc0000" stroke="#000" stroke-width="1"/><rect x="864.5" y="319.5" width="4" height="18" fill="#cc0000" stroke="#000" stroke-width="1"/><rect x="869.5" y="329.5" width="4" height="7" fill="#6aa84f" stroke="#000" stroke-width="1"/><rect x="875.5" y="322.5" width="4" height="11" fill="#cc0000" stroke="#000" stroke-width="1"/><rect x="880.5" y="297.5" width="4" height="34" fill="#6aa84f" stroke="#000" stroke-width="1"/><rect x="886.5" y="295.5" width="4" height="2" fill="#6aa84f" stroke="#000" stroke-width="1"/><rect x="891.5" y="275.5" width="4" height="18" fill="#6aa84f" stroke="#000" stroke-width="1"/><rect x="897.0" y="276" width="5" height="1.3" fill="#000"/><rect x="902.5" y="255.5" width="4" height="23" fill="#6aa84f" stroke="#000" stroke-width="1"/><rect x="908.5" y="249.5" width="4" height="7" fill="#6aa84f" stroke="#000" stroke-width="1"/><rect x="913.5" y="248.5" width="4" height="24" fill="#cc0000" stroke="#000" stroke-width="1"/><rect x="918.5" y="270.5" width="4" height="2" fill="#6aa84f" stroke="#000" stroke-width="1"/><rect x="924.5" y="259.5" width="4" height="8" fill="#6aa84f" stroke="#000" stroke-width="1"/><rect x="929.5" y="260.5" width="4" height="12" fill="#cc0000" stroke="#000" stroke-width="1"/><rect x="935.5" y="273.5" width="4" height="26" fill="#cc0000" stroke="#000" stroke-width="1"/><rect x="940.5" y="298.5" width="4" height="2" fill="#cc0000" stroke="#000" stroke-width="1"/><rect x="946.5" y="293.5" width="4" height="7" fill="#6aa84f" stroke="#000" stroke-width="1"/><rect x="951.5" y="286.5" width="4" height="6" fill="#6aa84f" stroke="#000" stroke-width="1"/><rect x="957.5" y="278.5" width="4" height="34" fill="#cc0000" stroke="#000" stroke-width="1"/><rect x="962.5" y="308.5" width="4" height="5" fill="#6aa84f" stroke="#000" stroke-width="1"/><rect x="968.5" y="309.5" width="4" height="16" fill="#cc0000" stroke="#000" stroke-width="1"/><rect x="973.5" y="324.5" width="4" height="6" fill="#cc0000" stroke="#000" stroke-width="1"/><rect x="979.5" y="236.5" width="4" height="96" fill="#6aa84f" stroke="#000" stroke-width="1"/><rect x="984.5" y="266.5" width="4" height="27" fill="#cc0000" stroke="#000" stroke-width="1"/><rect x="990.5" y="252.5" width="4" height="41" fill="#6aa84f" stroke="#000" stroke-width="1"/><rect x="995.5" y="251.5" width="4" height="4" fill="#cc0000" stroke="#000" stroke-width="1"/><rect x="1001.5" y="213.5" width="4" height="37" fill="#6aa84f" stroke="#000" stroke-width="1"/><rect x="1006.5" y="214.5" width="4" height="25" fill="#cc0000" stroke="#000" stroke-width="1"/><rect x="1012.5" y="230.5" width="4" height="28" fill="#cc0000" stroke="#000" stroke-width="1"/><rect x="1017.0" y="257" width="5" height="1.3" fill="#000"/><rect x="1023.5" y="254.5" width="4" height="3" fill="#6aa84f" stroke="#000" stroke-width="1"/><rect x="1028.5" y="252.5" width="4" height="17" fill="#cc0000" stroke="#000" stroke-width="1"/><rect x="1033.0" y="268" width="5" height="1.3" fill="#000"/><rect x="1039.5" y="283.5" width="4" height="10" fill="#cc0000" stroke="#000" stroke-width="1"/><rect x="1044.5" y="290.5" width="4" height="24" fill="#cc0000" stroke="#000" stroke-width="1"/><rect x="1050.5" y="313.5" width="4" height="15" fill="#cc0000" stroke="#000" stroke-width="1"/><rect x="1055.5" y="325.5" width="4" height="4" fill="#cc0000" stroke="#000" stroke-width="1"/><rect x="1061.5" y="329.5" width="4" height="5" fill="#cc0000" stroke="#000" stroke-width="1"/><rect x="1066.0" y="336" width="5" height="1.3" fill="#000"/><rect x="1072.5" y="315.5" width="4" height="18" fill="#6aa84f" stroke="#000" stroke-width="1"/><rect x="1077.5" y="313.5" width="4" height="10" fill="#cc0000" stroke="#000" stroke-width="1"/><rect x="1083.5" y="276.5" width="4" height="47" fill="#6aa84f" stroke="#000" stroke-width="1"/><rect x="1088.0" y="277" width="5" height="1.3" fill="#000"/><rect x="1094.5" y="286.5" width="4" height="31" fill="#cc0000" stroke="#000" stroke-width="1"/><rect x="1099.5" y="298.5" width="4" height="18" fill="#6aa84f" stroke="#000" stroke-width="1"/><rect x="1105.5" y="294.5" width="4" height="11" fill="#cc0000" stroke="#000" stroke-width="1"/><rect x="1110.5" y="277.5" width="4" height="28" fill="#6aa84f" stroke="#000" stroke-width="1"/><rect x="1116.5" y="276.5" width="4" height="9" fill="#cc0000" stroke="#000" stroke-width="1"/><rect x="1121.5" y="265.5" width="4" height="22" fill="#6aa84f" stroke="#000" stroke-width="1"/><rect x="1127.5" y="265.5" width="4" height="18" fill="#cc0000" stroke="#000" stroke-width="1"/><rect x="1132.5" y="278.5" width="4" height="3" fill="#6aa84f" stroke="#000" stroke-width="1"/><rect x="1138.5" y="250.5" width="4" height="26" fill="#6aa84f" stroke="#000" stroke-width="1"/><rect x="1143.5" y="253.5" width="4" height="18" fill="#cc0000" stroke="#000" stroke-width="1"/><rect x="1148.5" y="272.5" width="4" height="2" fill="#cc0000" stroke="#000" stroke-width="1"/><rect x="1154.5" y="256.5" width="4" height="16" fill="#6aa84f" stroke="#000" stroke-width="1"/><rect x="1159.5" y="253.5" width="4" height="31" fill="#cc0000" stroke="#000" stroke-width="1"/><rect x="1165.5" y="284.5" width="4" height="14" fill="#cc0000" stroke="#000" stroke-width="1"/><rect x="1170.5" y="298.5" width="4" height="12" fill="#cc0000" stroke="#000" stroke-width="1"/><rect x="1176.5" y="300.5" width="4" height="4" fill="#6aa84f" stroke="#000" stroke-width="1"/><rect x="1181.5" y="300.5" width="4" height="10" fill="#cc0000" stroke="#000" stroke-width="1"/><rect x="1187.5" y="310.5" width="4" height="8" fill="#cc0000" stroke="#000" stroke-width="1"/><rect x="1192.5" y="316.5" width="4" height="21" fill="#cc0000" stroke="#000" stroke-width="1"/><rect x="1198.5" y="339.5" width="4" height="24" fill="#cc0000" stroke="#000" stroke-width="1"/><rect x="1203.5" y="354.5" width="4" height="5" fill="#6aa84f" stroke="#000" stroke-width="1"/><rect x="1209.5" y="351.5" width="4" height="21" fill="#cc0000" stroke="#000" stroke-width="1"/><rect x="1214.0" y="367" width="5" height="1.3" fill="#000"/><rect x="1220.5" y="340.5" width="4" height="29" fill="#6aa84f" stroke="#000" stroke-width="1"/><rect x="1225.5" y="330.5" width="4" height="9" fill="#6aa84f" stroke="#000" stroke-width="1"/><rect x="1231.5" y="312.5" width="4" height="12" fill="#6aa84f" stroke="#000" stroke-width="1"/><rect x="1236.5" y="309.5" width="4" height="4" fill="#6aa84f" stroke="#000" stroke-width="1"/><rect x="1242.5" y="289.5" width="4" height="19" fill="#6aa84f" stroke="#000" stroke-width="1"/><rect x="1247.5" y="290.5" width="4" height="13" fill="#cc0000" stroke="#000" stroke-width="1"/><rect x="1253.5" y="304.5" width="4" height="4" fill="#cc0000" stroke="#000" stroke-width="1"/><rect x="1258.5" y="306.5" width="4" height="16" fill="#cc0000" stroke="#000" stroke-width="1"/><rect x="1264.5" y="322.5" width="4" height="21" fill="#cc0000" stroke="#000" stroke-width="1"/><rect x="1269.5" y="343.5" width="4" height="11" fill="#cc0000" stroke="#000" stroke-width="1"/><rect x="1274.5" y="348.5" width="4" height="16" fill="#cc0000" stroke="#000" stroke-width="1"/><rect x="1280.5" y="347.5" width="4" height="10" fill="#6aa84f" stroke="#000" stroke-width="1"/><rect x="1285.5" y="348.5" width="4" height="12" fill="#cc0000" stroke="#000" stroke-width="1"/><rect x="1291.5" y="343.5" width="4" height="16" fill="#6aa84f" stroke="#000" stroke-width="1"/><rect x="1296.5" y="340.5" width="4" height="32" fill="#cc0000" stroke="#000" stroke-width="1"/><rect x="1302.5" y="360.5" width="4" height="27" fill="#cc0000" stroke="#000" stroke-width="1"/><rect x="1307.5" y="386.5" width="4" height="34" fill="#cc0000" stroke="#000" stroke-width="1"/><rect x="1313.5" y="413.5" width="4" height="7" fill="#6aa84f" stroke="#000" stroke-width="1"/><rect x="1318.5" y="404.5" width="4" height="10" fill="#6aa84f" stroke="#000" stroke-width="1"/><rect x="1324.5" y="403.5" width="4" height="2" fill="#6aa84f" stroke="#000" stroke-width="1"/><rect x="1329.5" y="400.5" width="4" height="8" fill="#cc0000" stroke="#000" stroke-width="1"/><rect x="1335.5" y="397.5" width="4" height="10" fill="#6aa84f" stroke="#000" stroke-width="1"/><rect x="1340.5" y="396.5" width="4" height="2" fill="#6aa84f" stroke="#000" stroke-width="1"/><rect x="1346.5" y="396.5" width="4" height="30" fill="#cc0000" stroke="#000" stroke-width="1"/><rect x="1351.5" y="419.5" width="4" height="6" fill="#6aa84f" stroke="#000" stroke-width="1"/><rect x="1357.5" y="418.5" width="4" height="2" fill="#cc0000" stroke="#000" stroke-width="1"/><rect x="1362.5" y="404.5" width="4" height="16" fill="#6aa84f" stroke="#000" stroke-width="1"/><rect x="1368.5" y="400.5" width="4" height="40" fill="#cc0000" stroke="#000" stroke-width="1"/><rect x="1373.5" y="442.5" width="4" height="28" fill="#cc0000" stroke="#000" stroke-width="1"/><rect x="1379.5" y="471.5" width="4" height="8" fill="#cc0000" stroke="#000" stroke-width="1"/><rect x="1384.5" y="474.5" width="4" height="12" fill="#6aa84f" stroke="#000" stroke-width="1"/><rect x="1389.0" y="473" width="5" height="1.3" fill="#000"/><rect x="1395.5" y="474.5" width="4" height="60" fill="#cc0000" stroke="#000" stroke-width="1"/><rect x="1400.5" y="531.5" width="4" height="2" fill="#cc0000" stroke="#000" stroke-width="1"/><rect x="1406.5" y="522.5" width="4" height="9" fill="#6aa84f" stroke="#000" stroke-width="1"/><rect x="1411.5" y="514.5" width="4" height="22" fill="#cc0000" stroke="#000" stroke-width="1"/><rect x="1417.5" y="542.5" width="4" height="37" fill="#cc0000" stroke="#000" stroke-width="1"/><rect x="1422.5" y="568.5" width="4" height="10" fill="#6aa84f" stroke="#000" stroke-width="1"/><rect x="1428.5" y="527.5" width="4" height="39" fill="#6aa84f" stroke="#000" stroke-width="1"/><rect x="1433.5" y="530.5" width="4" height="44" fill="#cc0000" stroke="#000" stroke-width="1"/><rect x="1439.5" y="582.5" width="4" height="8" fill="#cc0000" stroke="#000" stroke-width="1"/><rect x="1444.5" y="586.5" width="4" height="2" fill="#6aa84f" stroke="#000" stroke-width="1"/><rect x="1450.5" y="582.5" width="4" height="51" fill="#cc0000" stroke="#000" stroke-width="1"/><rect x="1455.5" y="608.5" width="4" height="22" fill="#6aa84f" stroke="#000" stroke-width="1"/><rect x="1461.5" y="596.5" width="4" height="10" fill="#6aa84f" stroke="#000" stroke-width="1"/><rect x="1466.5" y="589.5" width="4" height="12" fill="#cc0000" stroke="#000" stroke-width="1"/><rect x="1472.5" y="603.5" width="4" height="8" fill="#cc0000" stroke="#000" stroke-width="1"/><rect x="1477.0" y="609" width="5" height="1.3" fill="#000"/><rect x="1483.5" y="610.5" width="4" height="16" fill="#cc0000" stroke="#000" stroke-width="1"/><rect x="1488.5" y="625.5" width="4" height="16" fill="#cc0000" stroke="#000" stroke-width="1"/><rect x="1494.5" y="618.5" width="4" height="13" fill="#6aa84f" stroke="#000" stroke-width="1"/><rect x="1499.5" y="615.5" width="4" height="10" fill="#cc0000" stroke="#000" stroke-width="1"/><rect x="1505.5" y="627.5" width="4" height="30" fill="#cc0000" stroke="#000" stroke-width="1"/><rect x="1510.5" y="650.5" width="4" height="5" fill="#6aa84f" stroke="#000" stroke-width="1"/><rect x="1515.0" y="648" width="5" height="1.3" fill="#000"/><rect x="1521.5" y="618.5" width="4" height="70" fill="#cc0000" stroke="#000" stroke-width="1"/><rect x="1526.5" y="678.5" width="4" height="8" fill="#6aa84f" stroke="#000" stroke-width="1"/><rect x="1532.5" y="680.5" width="4" height="19" fill="#cc0000" stroke="#000" stroke-width="1"/><rect x="1537.5" y="685.5" width="4" height="14" fill="#6aa84f" stroke="#000" stroke-width="1"/>
</g>
<text x="13" y="25.1" font-size="15.6" fill="#1c1c1e" font-weight="normal" text-anchor="start" textLength="544" lengthAdjust="spacingAndGlyphs">Continuum_Economics created with TradingView.com, Mar 05, 2026 15:43 UTC+8</text>
<text x="721.4" y="95.5" font-size="24.2" fill="#000" font-weight="normal" text-anchor="start" textLength="241.8" lengthAdjust="spacingAndGlyphs" stroke="#000" stroke-width="1.21" stroke-linejoin="round">EUR/AUD Daily Chart</text>
<text x="1364" y="95.5" font-size="24.2" fill="#000" font-weight="normal" text-anchor="start" textLength="148.6" lengthAdjust="spacingAndGlyphs" stroke="#000" stroke-width="1.21" stroke-linejoin="round">1-2 day view</text>
<text x="1094.3" y="176.9" font-size="25.2" fill="#f23645" font-weight="normal" text-anchor="start" textLength="82.8" lengthAdjust="spacingAndGlyphs" stroke="#f23645" stroke-width="1.26" stroke-linejoin="round">1.8160</text>
<text x="1527.2" y="458.2" font-size="25.2" fill="#f23645" font-weight="normal" text-anchor="start" textLength="82.8" lengthAdjust="spacingAndGlyphs" stroke="#f23645" stroke-width="1.26" stroke-linejoin="round">1.7250</text>
<text x="1560.2" y="596.9" font-size="25.2" fill="#f23645" font-weight="normal" text-anchor="start" textLength="82.8" lengthAdjust="spacingAndGlyphs" stroke="#f23645" stroke-width="1.26" stroke-linejoin="round">1.6800</text>
<text x="1560.2" y="651.1" font-size="25.2" fill="#f23645" font-weight="normal" text-anchor="start" textLength="82.8" lengthAdjust="spacingAndGlyphs" stroke="#f23645" stroke-width="1.26" stroke-linejoin="round">1.6620</text>
<text x="1560.2" y="713.1" font-size="25.2" fill="#f23645" font-weight="normal" text-anchor="start" textLength="82.8" lengthAdjust="spacingAndGlyphs" stroke="#f23645" stroke-width="1.26" stroke-linejoin="round">1.6420</text>
<text x="174.1" y="581.85" font-size="22.3" fill="#9c27b0" font-weight="normal" text-anchor="start" textLength="109.2" lengthAdjust="spacingAndGlyphs" stroke="#9c27b0" stroke-width="1.11" stroke-linejoin="round">20-day MA</text>
<text x="1394.95" y="284.9" font-size="22.3" fill="#2962ff" font-weight="normal" text-anchor="start" textLength="122.3" lengthAdjust="spacingAndGlyphs" stroke="#2962ff" stroke-width="1.11" stroke-linejoin="round">200-day MA</text>
<g fill="none" stroke="#ff9800" stroke-width="6.8" stroke-linecap="round"><path d="M1546.4 85.4H1570"/><path d="M1561.7 72L1575 85.4L1561.7 98.8" stroke-linejoin="miter"/></g>
<line x1="12" x2="1745" y1="771.5" y2="771.5" stroke="#434651" stroke-width="1.1"/>
<line x1="1658.5" x2="1658.5" y1="35" y2="811" stroke="#434651" stroke-width="1.15"/>
<rect x="1663.6" y="39.3" width="77.3" height="31.4" rx="5" fill="#fff" stroke="#f0f1f3" stroke-width="1.8"/>
<text x="1674" y="60" font-size="14.5" fill="#131722" font-weight="normal" text-anchor="start" textLength="28" lengthAdjust="spacingAndGlyphs">AUD</text>
<text x="1669.9" y="102.7" font-size="17.6" fill="#000" font-weight="normal" text-anchor="start" textLength="62.2" lengthAdjust="spacingAndGlyphs" stroke="#000" stroke-width="0.6">1.84000</text>
<text x="1669.9" y="163.7" font-size="17.6" fill="#000" font-weight="normal" text-anchor="start" textLength="62.2" lengthAdjust="spacingAndGlyphs" stroke="#000" stroke-width="0.6">1.82000</text>
<text x="1669.9" y="225.7" font-size="17.6" fill="#000" font-weight="normal" text-anchor="start" textLength="62.2" lengthAdjust="spacingAndGlyphs" stroke="#000" stroke-width="0.6">1.80000</text>
<text x="1669.9" y="286.7" font-size="17.6" fill="#000" font-weight="normal" text-anchor="start" textLength="62.2" lengthAdjust="spacingAndGlyphs" stroke="#000" stroke-width="0.6">1.78000</text>
<text x="1669.9" y="348.7" font-size="17.6" fill="#000" font-weight="normal" text-anchor="start" textLength="62.2" lengthAdjust="spacingAndGlyphs" stroke="#000" stroke-width="0.6">1.76000</text>
<text x="1669.9" y="409.7" font-size="17.6" fill="#000" font-weight="normal" text-anchor="start" textLength="62.2" lengthAdjust="spacingAndGlyphs" stroke="#000" stroke-width="0.6">1.74000</text>
<text x="1669.9" y="471.7" font-size="17.6" fill="#000" font-weight="normal" text-anchor="start" textLength="62.2" lengthAdjust="spacingAndGlyphs" stroke="#000" stroke-width="0.6">1.72000</text>
<text x="1669.9" y="532.7" font-size="17.6" fill="#000" font-weight="normal" text-anchor="start" textLength="62.2" lengthAdjust="spacingAndGlyphs" stroke="#000" stroke-width="0.6">1.70000</text>
<text x="1669.9" y="594.7" font-size="17.6" fill="#000" font-weight="normal" text-anchor="start" textLength="62.2" lengthAdjust="spacingAndGlyphs" stroke="#000" stroke-width="0.6">1.68000</text>
<text x="1669.9" y="655.7" font-size="17.6" fill="#000" font-weight="normal" text-anchor="start" textLength="62.2" lengthAdjust="spacingAndGlyphs" stroke="#000" stroke-width="0.6">1.66000</text>
<text x="1669.9" y="717.7" font-size="17.6" fill="#000" font-weight="normal" text-anchor="start" textLength="62.2" lengthAdjust="spacingAndGlyphs" stroke="#000" stroke-width="0.6">1.64000</text>
<path d="M1658.5 330.2H1737.3a2.5 2.5 0 0 1 2.5 2.5V352.6a2.5 2.5 0 0 1 -2.5 2.5H1658.5Z" fill="#2962ff"/>
<text x="1671.2" y="348.8" font-size="17.2" fill="#fff" font-weight="normal" text-anchor="start" textLength="62.2" lengthAdjust="spacingAndGlyphs" stroke="#fff" stroke-width="0.7">1.76033</text>
<path d="M1658.5 618.8H1737.3a2.5 2.5 0 0 1 2.5 2.5V641.2a2.5 2.5 0 0 1 -2.5 2.5H1658.5Z" fill="#9c27b0"/>
<text x="1671.2" y="637.4" font-size="17.2" fill="#fff" font-weight="normal" text-anchor="start" textLength="62.2" lengthAdjust="spacingAndGlyphs" stroke="#fff" stroke-width="0.7">1.66624</text>
<path d="M1658.5 673.1H1737.3a2.5 2.5 0 0 1 2.5 2.5V695.5a2.5 2.5 0 0 1 -2.5 2.5H1658.5Z" fill="#6aa84f"/>
<text x="1671.2" y="691.7" font-size="17.2" fill="#fff" font-weight="normal" text-anchor="start" textLength="62.2" lengthAdjust="spacingAndGlyphs" stroke="#fff" stroke-width="0.7">1.64878</text>
<defs><clipPath id="cp2"><rect x="13" y="772" width="1645" height="39"/></clipPath></defs><g clip-path="url(#cp2)">
<text x="110.1" y="796.8" font-size="17.2" fill="#111" font-weight="normal" text-anchor="middle" stroke="#111" stroke-width="0.25">Mar</text>
<text x="225.1" y="796.8" font-size="17.2" fill="#111" font-weight="normal" text-anchor="middle" stroke="#111" stroke-width="0.25">Apr</text>
<text x="345.1" y="796.8" font-size="17.2" fill="#111" font-weight="normal" text-anchor="middle" stroke="#111" stroke-width="0.25">May</text>
<text x="466.1" y="796.8" font-size="17.2" fill="#111" font-weight="normal" text-anchor="middle" stroke="#111" stroke-width="0.25">Jun</text>
<text x="581.1" y="796.8" font-size="17.2" fill="#111" font-weight="normal" text-anchor="middle" stroke="#111" stroke-width="0.25">Jul</text>
<text x="707.1" y="796.8" font-size="17.2" fill="#111" font-weight="normal" text-anchor="middle" stroke="#111" stroke-width="0.25">Aug</text>
<text x="822.1" y="796.8" font-size="17.2" fill="#111" font-weight="normal" text-anchor="middle" stroke="#111" stroke-width="0.25">Sep</text>
<text x="942.1" y="796.8" font-size="17.2" fill="#111" font-weight="normal" text-anchor="middle" stroke="#111" stroke-width="0.25">Oct</text>
<text x="1068.1" y="796.8" font-size="17.2" fill="#111" font-weight="normal" text-anchor="middle" stroke="#111" stroke-width="0.25">Nov</text>
<text x="1178.1" y="796.8" font-size="17.2" fill="#111" font-weight="normal" text-anchor="middle" stroke="#111" stroke-width="0.25">Dec</text>
<text x="1298.1" y="796.8" font-size="17.2" fill="#111" font-weight="bold" text-anchor="middle" stroke="#111" stroke-width="0.25">2026</text>
<text x="1413.1" y="796.8" font-size="17.2" fill="#111" font-weight="normal" text-anchor="middle" stroke="#111" stroke-width="0.25">Feb</text>
<text x="1523.1" y="796.8" font-size="17.2" fill="#111" font-weight="normal" text-anchor="middle" stroke="#111" stroke-width="0.25">Mar</text>
<text x="1643.1" y="796.8" font-size="17.2" fill="#111" font-weight="normal" text-anchor="middle" stroke="#111" stroke-width="0.25">Apr</text>
</g>
<g fill="#161616"><path d="M15.3 838.4H30.3V856.9H22.8V846.2H15.3Z"/><circle cx="36.2" cy="841.7" r="3.1"/><path d="M41.8 838.4H52.6L47.1 856.9H36.9Z"/></g>
<text x="62.3" y="856.9" font-size="25.6" fill="#161616" font-weight="bold" text-anchor="start" textLength="150.6" lengthAdjust="spacingAndGlyphs" stroke="#161616" stroke-width="0.5">TradingView</text>
</svg></body></html>
